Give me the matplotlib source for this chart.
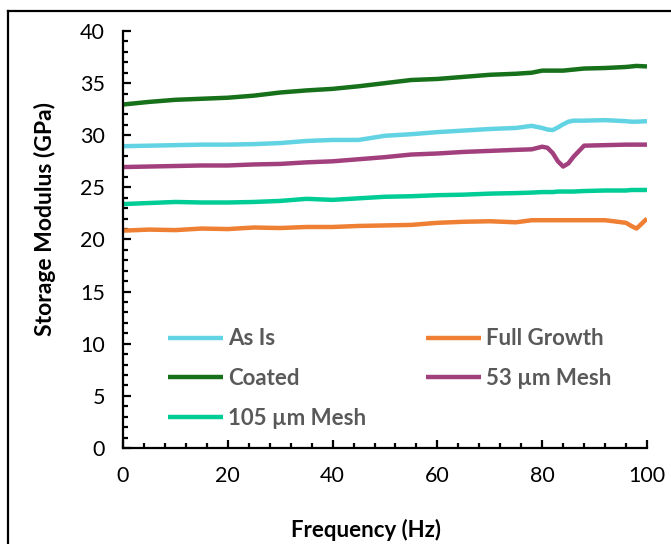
import matplotlib
matplotlib.use("Agg")
import matplotlib.pyplot as plt
from matplotlib.lines import Line2D
from matplotlib.ticker import MultipleLocator

plt.rcParams["font.family"] = ["Lato", "DejaVu Sans"]

freq = [0, 5, 10, 15, 20, 25, 30, 35, 40, 45, 50, 55, 60, 65, 70, 75,
        78, 80, 81, 82, 83, 84, 85, 86, 88, 92, 96, 97, 98, 100]

as_is = [28.95, 29.0, 29.05, 29.1, 29.1, 29.15, 29.25, 29.45, 29.55, 29.55,
         29.95, 30.1, 30.3, 30.45, 30.6, 30.7, 30.9, 30.7, 30.55, 30.5,
         30.75, 31.05, 31.3, 31.4, 31.4, 31.45, 31.35, 31.3, 31.3, 31.35]
full_growth = [20.85, 20.95, 20.9, 21.05, 21.0, 21.15, 21.1, 21.2, 21.2, 21.3,
               21.35, 21.4, 21.6, 21.7, 21.75, 21.65, 21.85, 21.85, 21.85, 21.85,
               21.85, 21.85, 21.85, 21.85, 21.85, 21.85, 21.6, 21.3, 21.05, 22.0]
coated = [32.95, 33.2, 33.4, 33.5, 33.6, 33.8, 34.1, 34.3, 34.45, 34.7,
          35.0, 35.3, 35.4, 35.6, 35.8, 35.9, 36.0, 36.2, 36.2, 36.2,
          36.2, 36.2, 36.25, 36.3, 36.4, 36.45, 36.55, 36.6, 36.65, 36.6]
mesh_53 = [26.95, 27.0, 27.05, 27.1, 27.1, 27.2, 27.25, 27.4, 27.5, 27.7,
           27.9, 28.15, 28.25, 28.4, 28.5, 28.6, 28.65, 28.9, 28.8, 28.3,
           27.5, 27.0, 27.3, 27.95, 29.0, 29.05, 29.1, 29.1, 29.1, 29.1]
mesh_105 = [23.4, 23.5, 23.6, 23.55, 23.55, 23.6, 23.7, 23.9, 23.8, 23.95,
            24.1, 24.15, 24.25, 24.3, 24.4, 24.45, 24.5, 24.55, 24.55, 24.55,
            24.6, 24.6, 24.6, 24.6, 24.65, 24.7, 24.7, 24.75, 24.75, 24.75]

labels = ["As Is", "Full Growth", "Coated", "53 \u00b5m Mesh", "105 \u00b5m Mesh"]
series = [as_is, full_growth, coated, mesh_53, mesh_105]
colors = ["#62D3E3", "#EE7F33", "#17701A", "#A2407E", "#00CC96"]

fig = plt.figure(figsize=(6.71, 5.44), dpi=100)
ax = fig.add_axes([0.1833, 0.1765, 0.7809, 0.7665])

lines = {}
for vals, lab, col in zip(series, labels, colors):
    lines[lab], = ax.plot(freq, vals, color=col, lw=3.2, label=lab,
                          solid_joinstyle="round", solid_capstyle="butt")

ax.set_xlim(0, 100)
ax.set_ylim(0, 40)
ax.xaxis.set_major_locator(MultipleLocator(20))
ax.xaxis.set_minor_locator(MultipleLocator(4))
ax.yaxis.set_major_locator(MultipleLocator(5))
ax.yaxis.set_minor_locator(MultipleLocator(1))

for s in ["top", "right"]:
    ax.spines[s].set_visible(False)
for s in ["left", "bottom"]:
    ax.spines[s].set_linewidth(1.6)

ax.tick_params(which="major", direction="in", length=5.5, width=1.6,
               labelsize=15.5, pad=13)
ax.tick_params(which="minor", direction="in", length=3.5, width=1.6)

ax.set_xlabel("Frequency (Hz)", fontsize=16, fontweight="bold")
ax.set_ylabel("Storage Modulus (GPa)", fontsize=16.5, fontweight="bold")
ax.xaxis.set_label_coords(0.464, -0.17)
ax.yaxis.set_label_coords(-0.128, 0.55)

# legend filled row by row like the original
order = ["As Is", "Coated", "105 \u00b5m Mesh", "Full Growth", "53 \u00b5m Mesh"]
leg = ax.legend([lines[k] for k in order], order, ncol=2, loc="upper left",
                bbox_to_anchor=(0.086, 0.287), frameon=False, fontsize=16,
                handlelength=2.45, handletextpad=0.25, columnspacing=2.7,
                labelspacing=0.85, borderpad=0, borderaxespad=0)
for t in leg.get_texts():
    t.set_color("#595959")
    t.set_fontweight("bold")

# outer chart border (cropped at right and bottom)
fig.add_artist(Line2D([8 / 671, 8 / 671], [0, 1 - 11 / 544],
                      transform=fig.transFigure, color="black", lw=1.6))
fig.add_artist(Line2D([8 / 671, 1], [1 - 11 / 544, 1 - 11 / 544],
                      transform=fig.transFigure, color="black", lw=1.6))

fig.savefig("out.png", dpi=100)
